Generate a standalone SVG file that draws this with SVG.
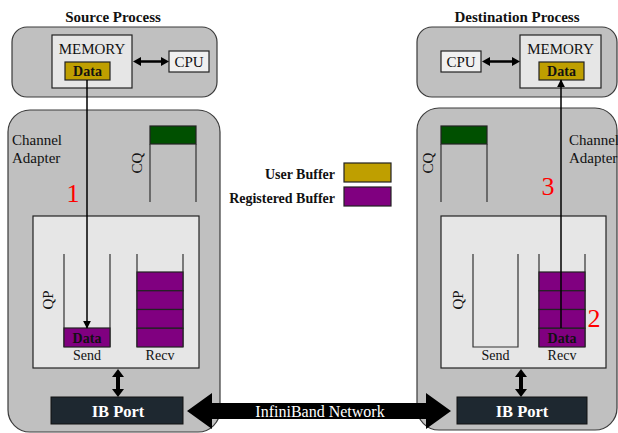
<svg xmlns="http://www.w3.org/2000/svg" width="618" height="433" viewBox="0 0 618 433" font-family="'Liberation Serif', 'DejaVu Serif', serif">
<style>
.box{fill:#c0c0c0;stroke:#3a3a3a;stroke-width:1.2}
.light{fill:#e6e6e6;stroke:#222;stroke-width:1.2}
.user{fill:#bf9f00;stroke:#222;stroke-width:1.2}
.reg{fill:#800080;stroke:#222;stroke-width:1.2}
.cq{fill:#005000;stroke:#222;stroke-width:1.2}
.port{fill:#1e2830;stroke:#111;stroke-width:1}
.q{fill:none;stroke:#333;stroke-width:1.2}
.t{fill:#111}
.w{fill:#fff}
.b{font-weight:bold}
.red{fill:#ff0000;font-size:26px}
.line{stroke:#000;stroke-width:1.5;fill:none}
</style>
<defs>
<marker id="ah" viewBox="0 0 10 10" refX="9" refY="5" markerWidth="8" markerHeight="8" orient="auto-start-reverse" markerUnits="userSpaceOnUse">
<path d="M0,0 L10,5 L0,10 z" fill="#000"/>
</marker>
</defs>

<g id="source-process">
<text class="t b" x="113" y="22" font-size="15" text-anchor="middle">Source Process</text>
<rect class="box" x="12" y="27" width="205" height="70" rx="15"/>
<rect class="light" x="52" y="35" width="80" height="53"/>
<text class="t" x="92" y="54" font-size="15" text-anchor="middle">MEMORY</text>
<rect class="user" x="65" y="62" width="45" height="18"/>
<text class="t b" x="87.5" y="76" font-size="14" text-anchor="middle">Data</text>
<rect class="light" x="169" y="51" width="40" height="21" style="fill:#f0f0f0"/>
<text class="t" x="189" y="67" font-size="15" text-anchor="middle">CPU</text>
</g>

<g id="source-adapter">
<rect class="box" x="8" y="110" width="212" height="322" rx="22"/>
<text class="t" x="12" y="145" font-size="15">Channel</text>
<text class="t" x="12" y="163" font-size="15">Adapter</text>
<rect class="cq" x="150" y="126" width="46" height="18"/>
<path class="q" d="M150,144 V202 M196,144 V202"/>
<text class="t" x="0" y="0" font-size="15" text-anchor="middle" transform="translate(142,163) rotate(-90)">CQ</text>
<rect class="light" x="33" y="216" width="166" height="152"/>
<text class="t" x="0" y="0" font-size="15" text-anchor="middle" transform="translate(53,300) rotate(-90)">QP</text>
<path class="q" d="M64,254 V347 M110,254 V347"/>
<rect class="reg" x="64" y="328" width="46" height="19"/>
<text class="t b" x="87" y="343" font-size="14" text-anchor="middle">Data</text>
<text class="t" x="87" y="360" font-size="14" text-anchor="middle">Send</text>
<path class="q" d="M137,254 V347 M183,254 V347"/>
<rect class="reg" x="137" y="272" width="46" height="18.75"/>
<rect class="reg" x="137" y="290.75" width="46" height="18.75"/>
<rect class="reg" x="137" y="309.5" width="46" height="18.75"/>
<rect class="reg" x="137" y="328.25" width="46" height="18.75"/>
<text class="t" x="160" y="360" font-size="14" text-anchor="middle">Recv</text>
<rect class="port" x="51" y="397" width="132" height="27"/>
<text class="w b" x="118" y="416.5" font-size="16.5" text-anchor="middle">IB Port</text>
</g>

<g id="dest-process">
<text class="t b" x="517" y="22" font-size="15" text-anchor="middle">Destination Process</text>
<rect class="box" x="417" y="27" width="200" height="70" rx="15"/>
<rect class="light" x="441" y="51" width="40" height="21" style="fill:#f0f0f0"/>
<text class="t" x="461" y="67" font-size="15" text-anchor="middle">CPU</text>
<rect class="light" x="520" y="35" width="81" height="53"/>
<text class="t" x="560.5" y="54" font-size="15" text-anchor="middle">MEMORY</text>
<rect class="user" x="539" y="62" width="45" height="18"/>
<text class="t b" x="561.5" y="76" font-size="14" text-anchor="middle">Data</text>
</g>

<g id="dest-adapter">
<rect class="box" x="417" y="108" width="200" height="322" rx="22"/>
<text class="t" x="569" y="145" font-size="15">Channel</text>
<text class="t" x="569" y="163" font-size="15">Adapter</text>
<rect class="cq" x="441" y="126" width="46" height="18"/>
<path class="q" d="M441,144 V202 M487,144 V202"/>
<text class="t" x="0" y="0" font-size="15" text-anchor="middle" transform="translate(433,163) rotate(-90)">CQ</text>
<rect class="light" x="441" y="216" width="165" height="152"/>
<text class="t" x="0" y="0" font-size="15" text-anchor="middle" transform="translate(463,300) rotate(-90)">QP</text>
<path class="q" d="M473,254 V347 H518 V254"/>
<text class="t" x="495.5" y="360" font-size="14" text-anchor="middle">Send</text>
<path class="q" d="M539,254 V347 M585,254 V347"/>
<rect class="reg" x="539" y="272" width="46" height="18.75"/>
<rect class="reg" x="539" y="290.75" width="46" height="18.75"/>
<rect class="reg" x="539" y="309.5" width="46" height="18.75"/>
<rect class="reg" x="539" y="328.25" width="46" height="18.75"/>
<text class="t b" x="562" y="343" font-size="14" text-anchor="middle">Data</text>
<text class="t" x="562" y="360" font-size="14" text-anchor="middle">Recv</text>
<rect class="port" x="457" y="397" width="130" height="27"/>
<text class="w b" x="522" y="416.5" font-size="16.5" text-anchor="middle">IB Port</text>
</g>

<g id="legend">
<text class="t b" x="335" y="179" font-size="14" text-anchor="end">User Buffer</text>
<rect class="user" x="344" y="163" width="47" height="19"/>
<text class="t b" x="335" y="203" font-size="14" text-anchor="end">Registered Buffer</text>
<rect class="reg" x="344" y="187" width="47" height="19"/>
</g>

<g id="connectors">
<path d="M133,61.5 L141,57 L141,60.3 L161,60.3 L161,57 L169,61.5 L161,66 L161,62.7 L141,62.7 L141,66 Z" fill="#000"/>
<path d="M482,61.5 L490,57 L490,60.3 L512,60.3 L512,57 L520,61.5 L512,66 L512,62.7 L490,62.7 L490,66 Z" fill="#000"/>
<line class="line" x1="87" y1="80" x2="87" y2="328" marker-end="url(#ah)"/>
<line class="line" x1="561" y1="328" x2="561" y2="80" marker-end="url(#ah)"/>
<path d="M118,369 L124,377 L120,377 L120,389 L124,389 L118,397 L112,389 L116,389 L116,377 L112,377 Z" fill="#000"/>
<path d="M521,369 L527,377 L523,377 L523,389 L527,389 L521,397 L515,389 L519,389 L519,377 L515,377 Z" fill="#000"/>
<path d="M187,411 L212,393 L212,403 L426,403 L426,393 L451,411 L426,429 L426,419 L212,419 L212,429 Z" fill="#000"/>
<text class="w" x="320" y="416.5" font-size="16" text-anchor="middle">InfiniBand Network</text>
</g>

<g id="step-labels">
<text class="red" x="73" y="202" text-anchor="middle">1</text>
<text class="red" x="594" y="327" text-anchor="middle">2</text>
<text class="red" x="548" y="195" text-anchor="middle">3</text>
</g>
</svg>
